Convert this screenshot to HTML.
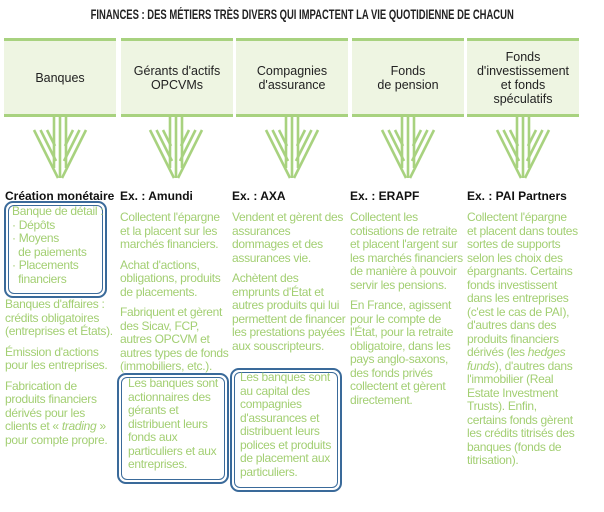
<!DOCTYPE html>
<html><head><meta charset="utf-8"><style>
body{margin:0;width:604px;height:512px;background:#fff;position:relative;overflow:hidden;font-family:"Liberation Sans",sans-serif}
.t{position:absolute;left:0;width:604px;top:7px;text-align:center;font-size:13.5px;font-weight:bold;color:#222;transform:scaleX(0.7);white-space:nowrap}
.hb{position:absolute;top:38px;height:73px;width:112px;background:#eef5e2;border-top:3px solid #a8d27f;border-bottom:3px solid #a8d27f;display:flex;align-items:center;justify-content:center;text-align:center;font-size:12.5px;color:#222;line-height:14px}
.h{position:absolute;top:189px;font-size:12px;font-weight:bold;color:#111;white-space:nowrap}
.c{position:absolute;font-size:12px;line-height:13.5px;color:#a3cf73;letter-spacing:-0.3px}
.c p{margin:0 0 7px 0}
.bx{position:absolute;border:2px solid #3a6a9a;border-radius:9px}
.bx>div{position:absolute;left:2px;top:2px;right:2px;bottom:2px;border:1.5px solid #3a6a9a;border-radius:6px}
</style></head><body>
<div class="t">FINANCES : DES MÉTIERS TRÈS DIVERS QUI IMPACTENT LA VIE QUOTIDIENNE DE CHACUN</div>
<div class="hb" style="left:4px">Banques</div>
<div class="hb" style="left:121px">Gérants d'actifs<br>OPCVMs</div>
<div class="hb" style="left:236px">Compagnies<br>d'assurance</div>
<div class="hb" style="left:352px">Fonds<br>de pension</div>
<div class="hb" style="left:467px">Fonds<br>d'investissement<br>et fonds<br>spéculatifs</div>
<svg width="604" height="190" style="position:absolute;left:0;top:0">
<g stroke="#a8d27f" stroke-width="2.6" fill="none">
<g id="a"><line x1="54" y1="115" x2="54" y2="168"/><line x1="60" y1="115" x2="60" y2="178"/><line x1="66" y1="115" x2="66" y2="168"/>
<line x1="34" y1="130" x2="58" y2="178"/><line x1="40.5" y1="130" x2="56" y2="161"/><line x1="47" y1="130" x2="55" y2="146"/>
<line x1="86" y1="130" x2="62" y2="178"/><line x1="79.5" y1="130" x2="64" y2="161"/><line x1="73" y1="130" x2="65" y2="146"/></g>
<use href="#a" x="116"/><use href="#a" x="232"/><use href="#a" x="348"/><use href="#a" x="463"/>
</g></svg>
<div class="h" style="left:5px">Création monétaire</div>
<div class="h" style="left:120px">Ex. : Amundi</div>
<div class="h" style="left:232px">Ex. : AXA</div>
<div class="h" style="left:350px">Ex. : ERAPF</div>
<div class="h" style="left:467px">Ex. : PAI Partners</div>
<div class="bx" style="left:4px;top:201px;width:99px;height:93px"><div></div></div>
<div class="c" style="left:12px;top:205px;width:95px">Banque de détail :<br>· Dépôts<br>· Moyens<br>&nbsp;&nbsp;de paiements<br>· Placements<br>&nbsp;&nbsp;financiers</div>
<div class="c" style="left:5px;top:298px;width:112px"><p>Banques d'affaires : crédits obligatoires (entreprises et États).</p><p>Émission d'actions pour les entreprises.</p><p>Fabrication de produits financiers dérivés pour les clients et « <i>trading</i> » pour compte propre.</p></div>
<div class="c" style="left:120px;top:211px;width:112px"><p>Collectent l'épargne et la placent sur les marchés financiers.</p><p>Achat d'actions, obligations, produits de placements.</p><p>Fabriquent et gèrent des Sicav, FCP, autres OPCVM et autres types de fonds (immobiliers, etc.).</p></div>
<div class="bx" style="left:117px;top:373px;width:108px;height:107px"><div></div></div>
<div class="c" style="left:128px;top:377px;width:98px">Les banques sont actionnaires des gérants et distribuent leurs fonds aux particuliers et aux entreprises.</div>
<div class="c" style="left:232px;top:211px;width:115px"><p>Vendent et gèrent des assurances dommages et des assurances vie.</p><p>Achètent des emprunts d'État et autres produits qui lui permettent de financer les prestations payées aux souscripteurs.</p></div>
<div class="bx" style="left:230px;top:368px;width:108px;height:120px"><div></div></div>
<div class="c" style="left:240px;top:371px;width:100px">Les banques sont au capital des compagnies d'assurances et distribuent leurs polices et produits de placement aux particuliers.</div>
<div class="c" style="left:350px;top:211px;width:114px"><p>Collectent les cotisations de retraite et placent l'argent sur les marchés financiers de manière à pouvoir servir les pensions.</p><p>En France, agissent pour le compte de l'État, pour la retraite obligatoire, dans les pays anglo-saxons, des fonds privés collectent et gèrent directement.</p></div>
<div class="c" style="left:467px;top:211px;width:112px">Collectent l'épargne et placent dans toutes sortes de supports selon les choix des épargnants. Certains fonds investissent dans les entreprises (c'est le cas de PAI), d'autres dans des produits financiers dérivés (les <i>hedges funds</i>), d'autres dans l'immobilier (Real Estate Investment Trusts). Enfin, certains fonds gèrent les crédits titrisés des banques (fonds de titrisation).</div>
</body></html>
